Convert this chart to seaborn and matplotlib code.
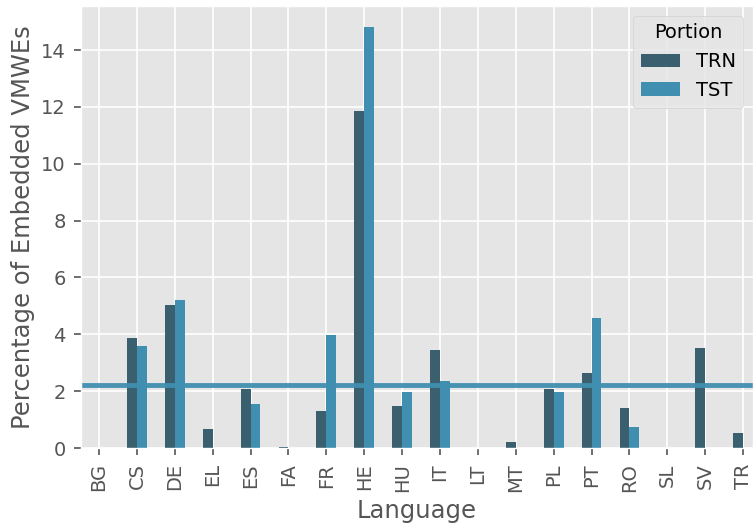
import pandas as pd
import matplotlib
matplotlib.use("Agg")
import matplotlib.pyplot as plt
import seaborn as sns

# values
languages = ["BG", "CS", "DE", "EL", "ES", "FA", "FR", "HE", "HU",
             "IT", "LT", "MT", "PL", "PT", "RO", "SL", "SV", "TR"]
trn = [0.0, 3.88, 5.04, 0.68, 2.09, 0.05, 1.31, 11.86, 1.49,
       3.46, 0.0, 0.22, 2.09, 2.65, 1.39, 0.0, 3.53, 0.54]
tst = [0.0, 3.60, 5.20, 0.0, 1.56, 0.0, 3.99, 14.82, 1.98,
       2.37, 0.0, 0.0, 1.98, 4.58, 0.75, 0.0, 0.0, 0.0]
avg_line = 2.23

colors = {"TRN": "#3a6070", "TST": "#408fb0"}

df = pd.DataFrame({"Language": languages, "TRN": trn, "TST": tst})
long_df = df.melt(id_vars="Language", var_name="Portion", value_name="pct")

plt.style.use("ggplot")
fig = plt.figure(figsize=(7.53, 5.27), dpi=100)
ax = fig.add_axes([81 / 753, 79 / 527, 672 / 753, 442 / 527])

sns.barplot(data=long_df, x="Language", y="pct", hue="Portion",
            palette=colors, width=0.52, saturation=1, ax=ax)
ax.axhline(avg_line, color=colors["TST"], lw=3.5, alpha=0.95)

ax.set_xlim(-0.475, 17.26)
ax.set_ylim(0, 15.55)
ax.grid(True, color="white", lw=1.2)
ax.set_axisbelow(True)
ax.set_xlabel("Language", fontsize=17.5, color="#555555", labelpad=5)
ax.set_ylabel("Percentage of Embedded VMWEs", fontsize=17.5, color="#555555")
ax.tick_params(axis="both", labelsize=14, colors="#555555", length=5, width=1.2, pad=6)
ax.tick_params(axis="x", rotation=90)
ax.legend(title="Portion", loc="upper right", fontsize=14, title_fontsize=14,
          facecolor="#e5e5e5", edgecolor="#cccccc", framealpha=0.8)

fig.savefig("out.png", dpi=100)
